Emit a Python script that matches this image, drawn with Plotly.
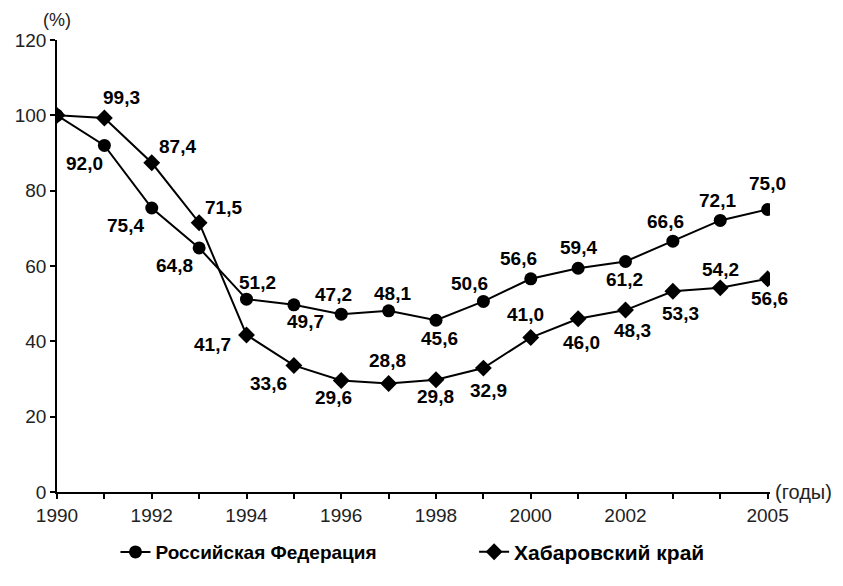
import plotly.graph_objects as go

years = list(range(1990, 2006))
rf_values = [100.0, 92.0, 75.4, 64.8, 51.2, 49.7, 47.2, 48.1, 45.6, 50.6, 56.6, 59.4, 61.2, 66.6, 72.1, 75.0]
kh_values = [100.0, 99.3, 87.4, 71.5, 41.7, 33.6, 29.6, 28.8, 29.8, 32.9, 41.0, 46.0, 48.3, 53.3, 54.2, 56.6]
tick_years = years
tick_labels = ["1990", "", "1992", "", "1994", "", "1996", "", "1998", "", "2000", "", "2002", "", "", "2005"]
rf_name = "Российская Федерация"
kh_name = "Хабаровский край"

# label offsets (pixels): (xshift, yshift); None = no label
rf_offsets = [None, (-20, -18), (-26, -18), (-25, -18), (11, 17), (12, -17), (-8, 20), (4, 17),
              (3, -18), (-14, 18), (-12, 20), (0, 21), (-1, -18), (-7, 20), (-3, 20), (0, 26)]
kh_offsets = [None, (17, 20), (26, 16), (24, 15), (-34, -10), (-25, -18), (-8, -17), (-1, 23),
              (-1, -17), (5, -22), (-5, 23), (3, -24), (7, -20), (8, -22), (0, 18), (2, -20)]

FONT = "Liberation Sans, Arial, sans-serif"

fig = go.Figure()
fig.add_trace(go.Scatter(
    x=years, y=rf_values, name=rf_name, mode="lines+markers",
    line=dict(color="black", width=2),
    marker=dict(symbol="circle", size=13, color="black"),
    legend="legend",
))
fig.add_trace(go.Scatter(
    x=years, y=kh_values, name=kh_name, mode="lines+markers",
    line=dict(color="black", width=2),
    marker=dict(symbol="diamond", size=13, color="black"),
    legend="legend2",
))

def fmt(v):
    return f"{v:.1f}".replace(".", ",")

for vals, offs in ((rf_values, rf_offsets), (kh_values, kh_offsets)):
    for x, v, o in zip(years, vals, offs):
        if o is None:
            continue
        fig.add_annotation(x=x, y=v, text=fmt(v), showarrow=False,
                           xshift=o[0], yshift=o[1],
                           font=dict(family=FONT, size=19, color="black", weight="bold"))

fig.add_annotation(xref="paper", yref="paper", x=0, y=1, text="(%)", showarrow=False,
                   xanchor="center", yanchor="bottom", yshift=8,
                   font=dict(family=FONT, size=18, color="#222"))
fig.add_annotation(xref="paper", yref="paper", x=1, y=0, text="(годы)", showarrow=False,
                   xanchor="left", yanchor="middle", xshift=3,
                   font=dict(family=FONT, size=20, color="#222"))

legend_font = dict(family=FONT, size=19, color="black", weight="bold")
fig.update_layout(
    width=843, height=586,
    margin=dict(l=49, r=81, t=32, b=102, autoexpand=False),
    paper_bgcolor="white", plot_bgcolor="white",
    font=dict(family=FONT, size=18, color="#222"),
    showlegend=True,
    legend=dict(orientation="h", x=0.082, xanchor="left", y=-0.133, yanchor="middle",
                font=legend_font, itemwidth=30),
    legend2=dict(orientation="h", x=0.585, xanchor="left", y=-0.133, yanchor="middle",
                 font=dict(family=FONT, size=21, color="black", weight="bold"), itemwidth=30),
)
fig.update_xaxes(range=[1990, 2005.05], tickmode="array", tickvals=tick_years, ticktext=tick_labels,
                 showgrid=False, zeroline=False, showline=True, linecolor="black", linewidth=1.5,
                 ticks="outside", ticklen=5, tickcolor="black", tickwidth=1.5, automargin=False,
                 tickfont=dict(family=FONT, size=19, color="#222"))
fig.update_yaxes(range=[0, 120], tickmode="array", tickvals=[0, 20, 40, 60, 80, 100, 120],
                 showgrid=False, zeroline=False, showline=True, linecolor="black", linewidth=1.5,
                 ticks="outside", ticklen=5, tickcolor="black", tickwidth=1.5, automargin=False,
                 tickfont=dict(family=FONT, size=19, color="#222"))

fig.write_html("out.html")
